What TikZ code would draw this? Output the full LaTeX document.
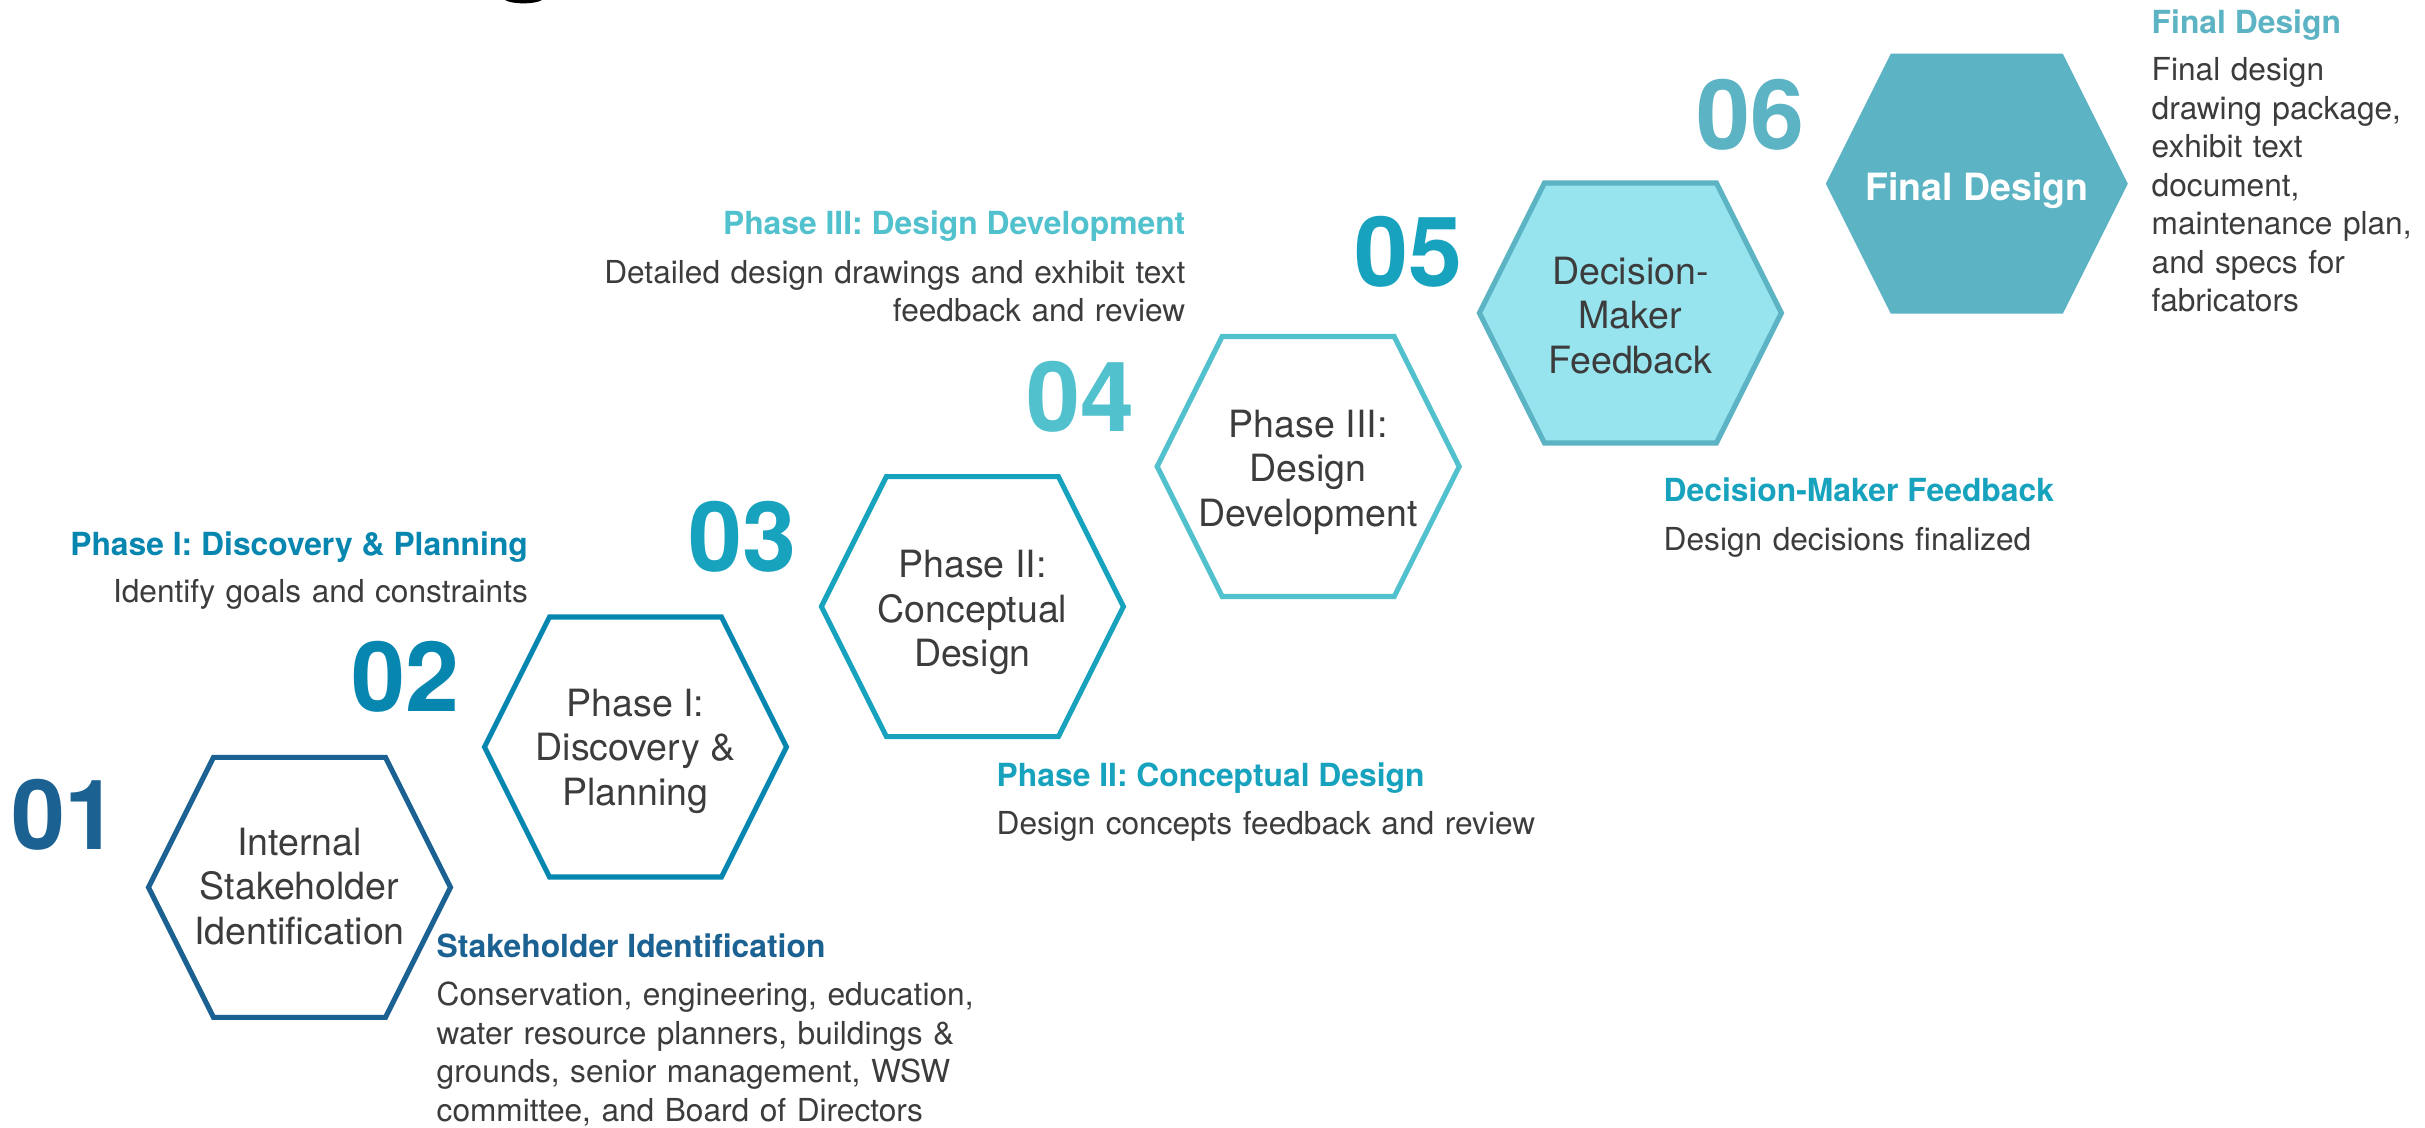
\documentclass[tikz,border=0pt]{standalone}
\usepackage{fontspec}
\setmainfont{TeX Gyre Heros}
\definecolor{sone}{RGB}{27,98,147}
\definecolor{stwo}{RGB}{7,134,176}
\definecolor{sthree}{RGB}{23,162,190}
\definecolor{sfour}{RGB}{81,193,205}
\definecolor{sfive}{RGB}{23,162,190}
\definecolor{ssix}{RGB}{91,179,195}
\definecolor{hexfill}{RGB}{151,227,238}
\definecolor{ink}{RGB}{60,60,60}
\begin{document}
\begin{tikzpicture}[x=0.01cm,y=-0.01cm,
  hexa/.pic={\path[pic actions] (-151,0) -- (-86,-130) -- (86,-130) -- (151,0) -- (86,130) -- (-86,130) -- cycle;},
  hexline/.style={line width=1.45pt, line join=miter},
  hexlabel/.style={align=center, text=ink, inner sep=0, font=\fontsize{10.67}{12.66}\selectfont},
  stepnum/.style={anchor=base, inner sep=0, font=\fontsize{27.6}{30}\selectfont\bfseries},
  steptitle/.style={inner sep=0, font=\fontsize{9.05}{10.9}\selectfont\bfseries},
  stepbody/.style={inner sep=0, text=ink, text width=8cm, font=\fontsize{9.0}{10.95}\selectfont},
]
\useasboundingbox (0,0) rectangle (2425,1127);
\fill[white] (0,0) rectangle (2425,1127);

% descender of the heading above, cut by the page edge
\fill[black] (505,0) .. controls (512,4.5) and (535,4.5) .. (542,0) -- cycle;

% hexagons
\pic[draw=sone, hexline] at (299.5,887.3) {hexa};
\pic[draw=stwo, hexline] at (635.5,747) {hexa};
\pic[draw=sthree, hexline] at (972.4,606.6) {hexa};
\pic[draw=sfour, hexline] at (1308.2,466.5) {hexa};
\pic[draw=ssix, fill=hexfill, hexline] at (1630.4,313) {hexa};
\pic[fill=ssix] at (1976.8,183.7) {hexa};

% labels inside the hexagons
\node[hexlabel] (h1) at (299.5,886.5) {Internal\\Stakeholder\\Identification};
\node[hexlabel] (h2) at (635.5,751.3) {Phase I:\\Discovery \&\\Planning};
\node[hexlabel] (h3) at (972.4,612.5) {Phase II:\\Conceptual\\Design};
\node[hexlabel] (h4) at (1308.2,472.1) {Phase III:\\Design\\Development};
\node[hexlabel] (h5) at (1630.4,315.5) {Decision-\\Maker\\Feedback};
\node[hexlabel, text=white, font=\fontsize{10.67}{12.66}\selectfont\bfseries] (h6) at (1976.8,190.5) {Final Design};

% step numbers
\node[stepnum, text=sone] (n1) at (65,849) {01};
\node[stepnum, text=stwo] (n2) at (405,711) {02};
\node[stepnum, text=sthree] (n3) at (742,571) {03};
\node[stepnum, text=sfour] (n4) at (1080,431) {04};
\node[stepnum, text=sfive] (n5) at (1408,286) {05};
\node[stepnum, text=ssix] (n6) at (1750,149) {06};

% step descriptions
\node[steptitle, text=stwo, anchor=base east] (t2) at (528.6,555.5) {Phase I: Discovery \& Planning};
\node[stepbody, align=right, anchor=base east] (b2) at (528.6,602.4) {Identify goals and constraints};

\node[steptitle, text=sone, anchor=base west] (t1) at (436,957.5) {Stakeholder Identification};
\node[stepbody, align=left, anchor=base west] (b1) at (436,1005.5) {Conservation, engineering, education,\\water resource planners, buildings \&\\grounds, senior management, WSW\\committee, and Board of Directors};

\node[steptitle, text=sthree, anchor=base west] (t3) at (996,786) {Phase II: Conceptual Design};
\node[stepbody, align=left, anchor=base west] (b3) at (996,834.7) {Design concepts feedback and review};

\node[steptitle, text=sfour, anchor=base east] (t4) at (1186,234.8) {Phase III: Design Development};
\node[stepbody, align=right, anchor=base east] (b4) at (1186,283) {Detailed design drawings and exhibit text\\feedback and review};

\node[steptitle, text=sfive, anchor=base west] (t5) at (1663,501.8) {Decision-Maker Feedback};
\node[stepbody, align=left, anchor=base west] (b5) at (1663,550) {Design decisions finalized};

\node[steptitle, text=ssix, anchor=base west] (t6) at (2151,33.3) {Final Design};
\node[stepbody, align=left, anchor=base west] (b6) at (2151,80.7) {Final design\\drawing package,\\exhibit text\\document,\\maintenance plan,\\and specs for\\fabricators};
\end{tikzpicture}
\end{document}
